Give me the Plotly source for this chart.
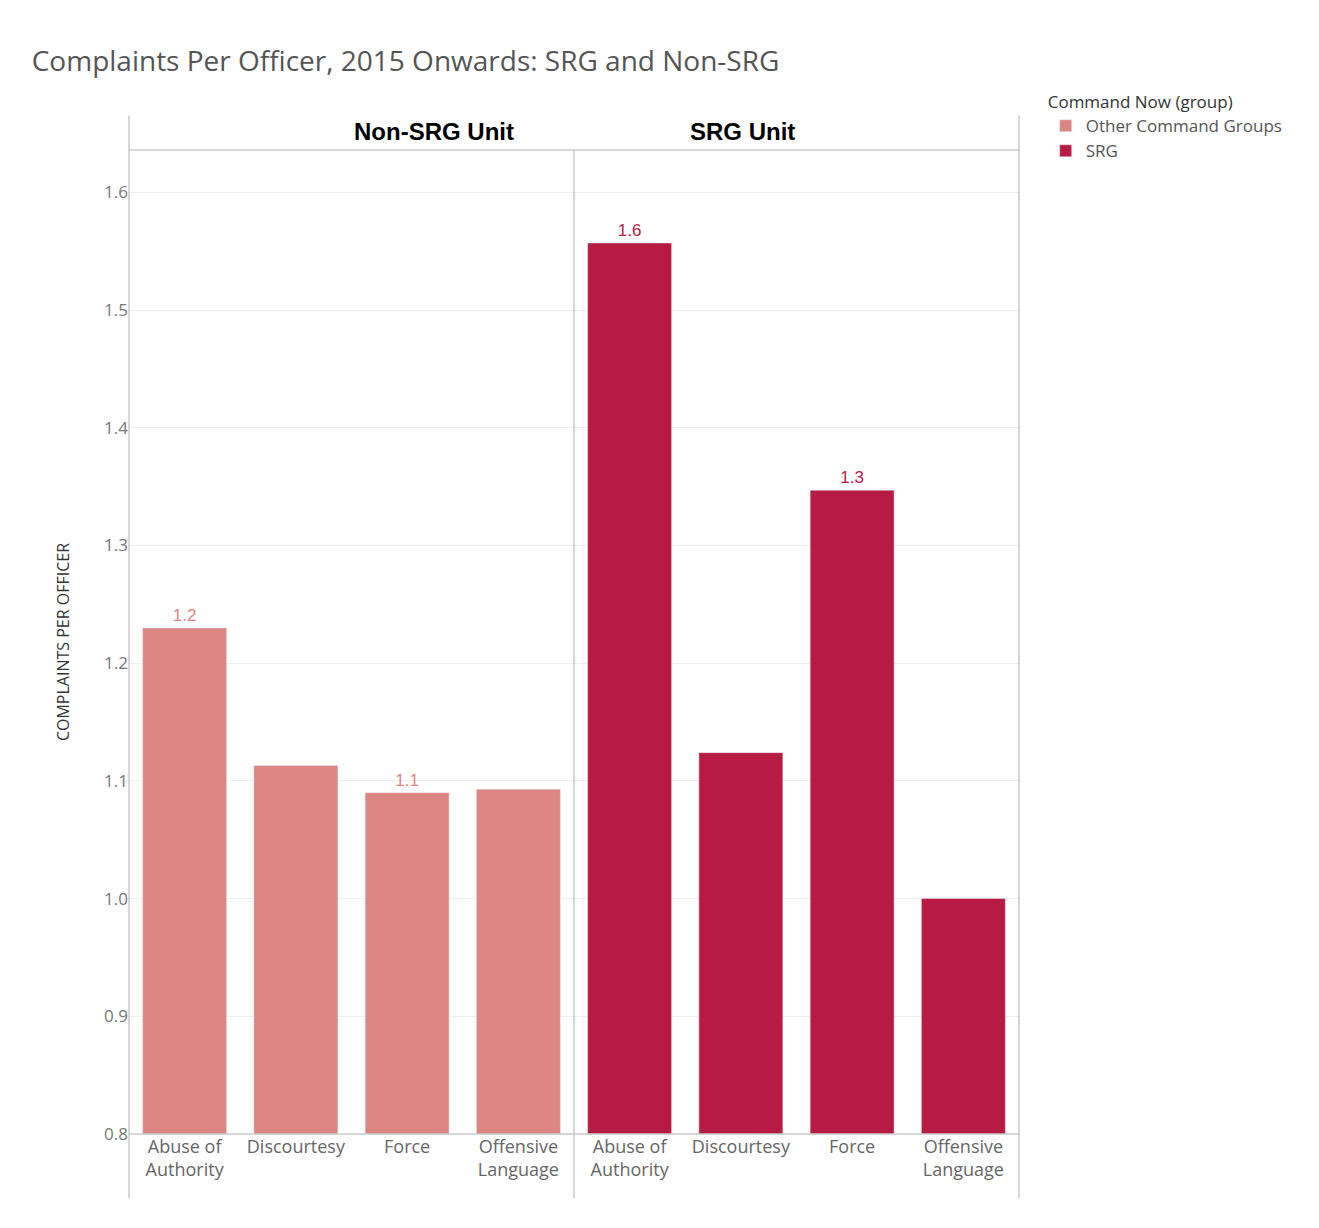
import plotly.graph_objects as go

categories = ["Abuse of<br>Authority", "Discourtesy", "Force", "Offensive<br>Language"]
non_srg = [1.23, 1.113, 1.09, 1.093]
srg = [1.557, 1.124, 1.347, 1.0]
non_srg_labels = ["1.2", "", "1.1", ""]
srg_labels = ["1.6", "", "1.3", ""]

pink = "#DB8682"
red = "#B71A42"

fig = go.Figure()
fig.add_trace(go.Bar(x=categories, y=non_srg, name="Other Command Groups", marker_color=pink,
                     text=non_srg_labels, textposition="outside", cliponaxis=False,
                     textfont=dict(color=pink, size=17, family="Arial Black, Arial"),
                     xaxis="x", yaxis="y"))
fig.add_trace(go.Bar(x=categories, y=srg, name="SRG", marker_color=red,
                     text=srg_labels, textposition="outside", cliponaxis=False,
                     textfont=dict(color=red, size=17, family="Arial Black, Arial"),
                     xaxis="x2", yaxis="y"))

axis_common = dict(type="category", showgrid=False, ticks="", showline=False,
                   tickfont=dict(size=18, color="#666", family="Open Sans"))
fig.update_layout(
    width=1319, height=1228,
    plot_bgcolor="white", paper_bgcolor="white",
    margin=dict(l=121, r=308, t=142, b=102),
    font=dict(family="Open Sans", color="#555"),
    title=dict(text="Complaints Per Officer, 2015 Onwards: SRG and Non-SRG",
               x=0.018, xanchor="left", y=0.965, font=dict(size=28, color="#555")),
    xaxis=dict(domain=[0, 0.5], **axis_common),
    xaxis2=dict(domain=[0.5, 1], anchor="y", **axis_common),
    yaxis=dict(range=[0.8, 1.636], dtick=0.1, tickformat=".1f", showgrid=True,
               gridcolor="#EFEFEF", zeroline=False, ticks="",
               tickfont=dict(size=17, color="#777"),
               title=dict(text="COMPLAINTS PER OFFICER", font=dict(size=16, color="#333"),
                          standoff=30)),
    bargap=0.245, showlegend=True,
    legend=dict(x=1.03, y=1.065, xanchor="left", yanchor="top",
                title=dict(text="Command Now (group)", font=dict(size=17, color="#333")),
                font=dict(size=17, color="#555"), traceorder="normal"),
)

line = dict(color="#C8C8C8", width=1.5)
# panel frame
for xv in [0, 1]:
    fig.add_shape(type="line", xref="paper", yref="paper", x0=xv, x1=xv, y0=-0.065, y1=1.035, line=line)
fig.add_shape(type="line", xref="paper", yref="paper", x0=0.5, x1=0.5, y0=-0.065, y1=1.0, line=line)
fig.add_shape(type="line", xref="paper", yref="paper", x0=0, x1=1, y0=1, y1=1, line=line)
fig.add_shape(type="line", xref="paper", yref="paper", x0=0, x1=1, y0=0, y1=0, line=line)

for xc, txt in [(0.25, "Non-SRG Unit"), (0.75, "SRG Unit")]:
    fig.add_annotation(x=xc, y=1.035, xref="paper", yref="paper", text="<b>%s</b>" % txt,
                       showarrow=False, font=dict(size=24, color="black", family="Arial"))

fig.write_html("out.html")
